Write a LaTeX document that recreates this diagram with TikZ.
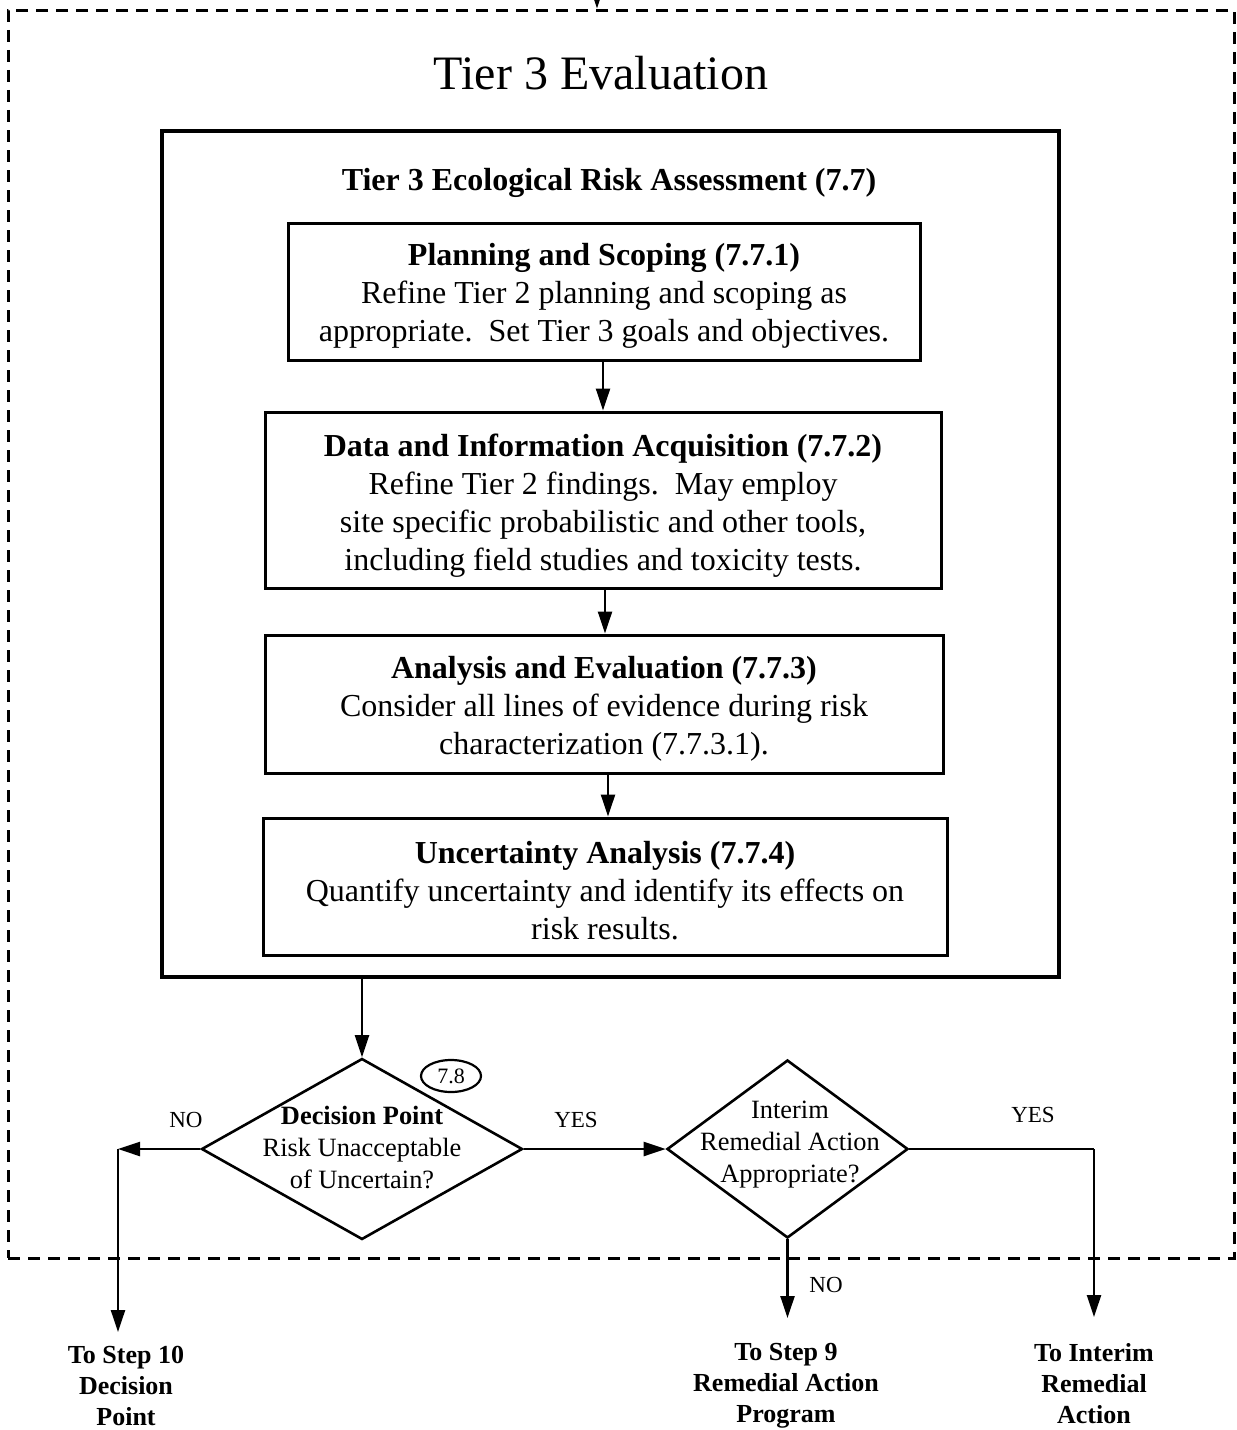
\documentclass[tikz,border=0pt]{standalone}
\usepackage{fontspec}
\setmainfont{Liberation Serif}
\usetikzlibrary{arrows.meta,shapes.geometric}
\begin{document}
\begin{tikzpicture}[x=0.5pt,y=-0.5pt,
  box/.style={draw, line width=1.5pt, inner sep=0pt},
  boxtext/.style={inner sep=0pt, align=center, font=\fontsize{16}{19}\selectfont},
  arr/.style={line width=1.2pt, -{Triangle[width=7pt,length=11pt]}},
  conn/.style={line width=1.2pt},
  dia/.style={draw, diamond, line width=1.3pt, inner sep=0pt},
  diatext/.style={align=center, inner sep=0pt, font=\fontsize{13.2}{16}\selectfont},
  lbl/.style={inner sep=0pt, font=\fontsize{11.5}{14}\selectfont},
  endtext/.style={align=center, inner sep=0pt, font=\bfseries\fontsize{13}{15.5}\selectfont}]
\useasboundingbox (0,0) rectangle (1237,1430);

% outer dashed frame
\node[draw, line width=1.5pt, dash pattern=on 6pt off 4pt, minimum width=613pt, minimum height=624pt, inner sep=0pt] (outer) at (621,634) {};
\node[inner sep=0pt, font=\fontsize{24}{28}\selectfont] (title) at (601,73) {Tier 3 Evaluation};

% inner solid box
\node[draw, line width=1.8pt, minimum width=448.5pt, minimum height=423pt, inner sep=0pt] (inner) at (610.5,554) {};
\node[inner sep=0pt, font=\bfseries\fontsize{16}{19}\selectfont] (innertitle) at (609,183) {Tier 3 Ecological Risk Assessment (7.7)};

\node[box, minimum width=316pt, minimum height=68.5pt] (b1) at (604,291.5) {};
\node[boxtext] (b1t) at (604,296)
  {\textbf{Planning and Scoping (7.7.1)}\\Refine Tier 2 planning and scoping as\\appropriate.\ \ Set Tier 3 goals and objectives.};
\node[box, minimum width=338pt, minimum height=88pt] (b2) at (603,500) {};
\node[boxtext] (b2t) at (603,506)
  {\textbf{Data and Information Acquisition (7.7.2)}\\Refine Tier 2 findings.\ \ May employ\\site specific probabilistic and other tools,\\including field studies and toxicity tests.};
\node[box, minimum width=339pt, minimum height=69pt] (b3) at (604,704) {};
\node[boxtext] (b3t) at (604,709)
  {\textbf{Analysis and Evaluation (7.7.3)}\\Consider all lines of evidence during risk\\characterization (7.7.3.1).};
\node[box, minimum width=342pt, minimum height=68.5pt] (b4) at (605,886.5) {};
\node[boxtext] (b4t) at (605,891)
  {\textbf{Uncertainty Analysis (7.7.4)}\\Quantify uncertainty and identify its effects on\\risk results.};

\draw[arr] (b1.south -| 603,0) -- (b2.north -| 603,0);
\draw[arr] (b2.south -| 605,0) -- (b3.north -| 605,0);
\draw[arr] (b3.south -| 608,0) -- (b4.north -| 608,0);

% decision diamonds
\node[dia, minimum width=160.5pt, minimum height=90.5pt] (d1) at (362,1149) {};
\node[diatext] (d1t) at (362,1148) {\textbf{Decision Point}\\Risk Unacceptable\\of Uncertain?};
\node[draw, ellipse, line width=1.1pt, minimum width=30pt, minimum height=16pt, inner sep=0pt, font=\fontsize{11}{13}\selectfont] (ref) at (451,1076) {7.8};

\node[dia, minimum width=120.5pt, minimum height=89pt] (d2) at (787.5,1149) {};
\node[diatext] (d2t) at (790,1145) {Interim\\Remedial Action\\Appropriate?};

\draw[arr] (inner.south -| d1.north) -- (d1.north);
\coordinate (topin) at (597,-20);
\draw[arr] (topin) -- (topin |- outer.north);

% NO branch to step 10
\coordinate (noL) at (118,1149);
\coordinate (noLend) at (118,1332);
\draw[arr] (d1.west) -- (noL);
\draw[arr] (noL) -- (noLend);
\node[lbl] (no1) at (186,1120) {NO};

% YES to interim diamond
\draw[arr] (d1.east) -- (d2.west);
\node[lbl] (yes1) at (576,1120) {YES};

% NO from d2
\coordinate (no2end) at (787.5,1318);
\draw[arr] (d2.south) -- (no2end);
\node[lbl] (no2) at (826,1285) {NO};

% YES from d2
\coordinate (yesR) at (1094,1149);
\coordinate (yesRend) at (1094,1317);
\draw[conn] (d2.east) -- (yesR);
\draw[arr] (yesR) -- (yesRend);
\node[lbl] (yes2) at (1033,1115) {YES};

% end labels
\node[endtext] (t10) at (126,1386) {To Step 10\\Decision\\Point};
\node[endtext] (t9) at (786,1386) {To Step 9\\Remedial Action\\Program};
\node[endtext] (tir) at (1094,1384) {To Interim\\Remedial\\Action};
\end{tikzpicture}
\end{document}
